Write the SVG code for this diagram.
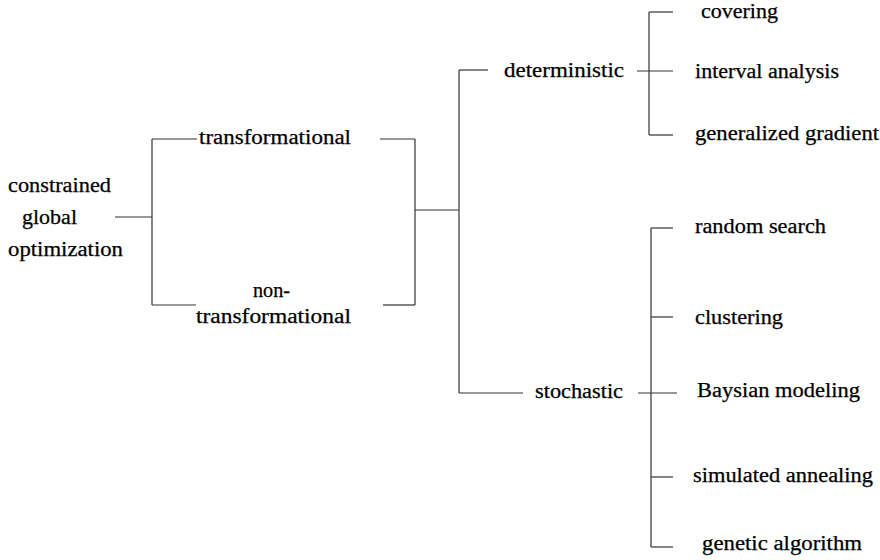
<svg xmlns="http://www.w3.org/2000/svg" width="880" height="560" viewBox="0 0 880 560">
<style>
.c line{stroke:#333;stroke-width:1.2;fill:none}
.t text{font-family:"Liberation Serif","Times New Roman",serif;font-size:20px;fill:#000;stroke:#000;stroke-width:0.25}
</style>
<rect width="880" height="560" fill="#fff"/>
<g class="c" id="connectors">
<line x1="115" y1="217" x2="152" y2="217"/>
<line x1="152" y1="139" x2="152" y2="305"/>
<line x1="152" y1="139" x2="197" y2="139"/>
<line x1="152" y1="305" x2="196" y2="305"/>
<line x1="380" y1="139" x2="415" y2="139"/>
<line x1="383" y1="305" x2="415" y2="305"/>
<line x1="415" y1="139" x2="415" y2="305"/>
<line x1="415" y1="210" x2="459" y2="210"/>
<line x1="459" y1="70" x2="459" y2="393"/>
<line x1="459" y1="70" x2="488" y2="70"/>
<line x1="459" y1="393" x2="523" y2="393"/>
<line x1="637" y1="71" x2="673" y2="71"/>
<line x1="649" y1="12" x2="649" y2="135"/>
<line x1="649" y1="12" x2="673" y2="12"/>
<line x1="649" y1="135" x2="673" y2="135"/>
<line x1="638" y1="393" x2="677" y2="393"/>
<line x1="651" y1="228" x2="651" y2="547"/>
<line x1="651" y1="228" x2="673" y2="228"/>
<line x1="651" y1="317" x2="673" y2="317"/>
<line x1="651" y1="477" x2="673" y2="477"/>
<line x1="651" y1="547" x2="673" y2="547"/>
</g>
<g class="t">
<g id="root"><text x="8" y="192" textLength="103" lengthAdjust="spacingAndGlyphs">constrained</text><text x="22" y="224" textLength="55" lengthAdjust="spacingAndGlyphs">global</text><text x="8" y="256" textLength="115" lengthAdjust="spacingAndGlyphs">optimization</text></g>
<g id="transformational"><text x="199" y="144" textLength="152" lengthAdjust="spacingAndGlyphs">transformational</text></g>
<g id="nontransformational"><text x="253" y="297" textLength="37" lengthAdjust="spacingAndGlyphs">non-</text><text x="196" y="323" textLength="155" lengthAdjust="spacingAndGlyphs">transformational</text></g>
<g id="deterministic"><text x="504" y="77" textLength="120" lengthAdjust="spacingAndGlyphs">deterministic</text></g>
<g id="stochastic"><text x="535" y="398" textLength="88" lengthAdjust="spacingAndGlyphs">stochastic</text></g>
<g id="covering"><text x="701" y="18" textLength="77" lengthAdjust="spacingAndGlyphs">covering</text></g>
<g id="interval"><text x="695" y="78" textLength="144" lengthAdjust="spacingAndGlyphs">interval analysis</text></g>
<g id="gradient"><text x="695" y="140" textLength="184" lengthAdjust="spacingAndGlyphs">generalized gradient</text></g>
<g id="random"><text x="695" y="233" textLength="131" lengthAdjust="spacingAndGlyphs">random search</text></g>
<g id="clustering"><text x="695" y="324" textLength="88" lengthAdjust="spacingAndGlyphs">clustering</text></g>
<g id="baysian"><text x="697" y="397" textLength="163" lengthAdjust="spacingAndGlyphs">Baysian modeling</text></g>
<g id="annealing"><text x="693" y="482" textLength="180" lengthAdjust="spacingAndGlyphs">simulated annealing</text></g>
<g id="genetic"><text x="702" y="550" textLength="160" lengthAdjust="spacingAndGlyphs">genetic algorithm</text></g>
</g>
</svg>
